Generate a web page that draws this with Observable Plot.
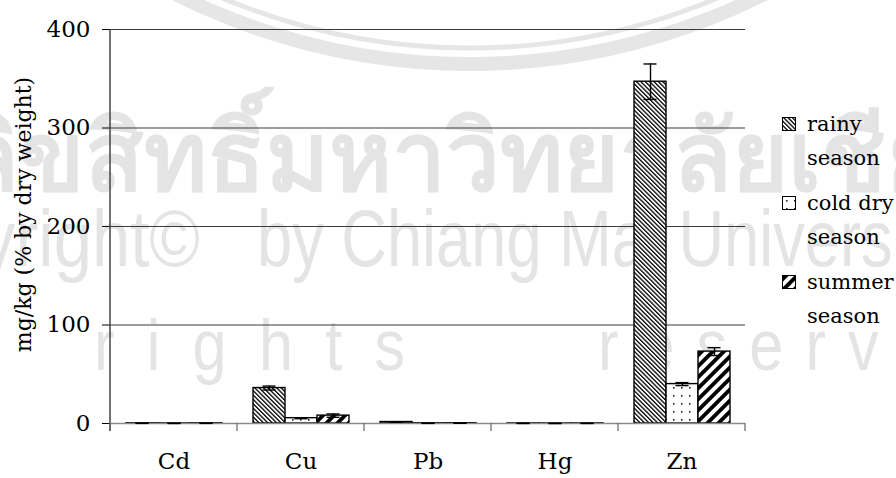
<!DOCTYPE html>
<html>
<head>
<meta charset="utf-8">
<script src="https://cdn.jsdelivr.net/npm/d3@7"></script>
<script src="https://cdn.jsdelivr.net/npm/@observablehq/plot@0.6"></script>
<style>
  body { margin: 0; background: #fff; }
  #wrap { position: relative; width: 896px; height: 478px; overflow: hidden; font-family: "DejaVu Serif", serif; }
  #wm, #chart, #legend { position: absolute; left: 0; top: 0; }
  .lg { position: absolute; font-size: 21px; line-height: 1; white-space: nowrap; color: #000; }
  .sw { position: absolute; width: 14px; height: 14px; border: 1.2px solid #000; box-sizing: border-box; }
</style>
</head>
<body>
<svg width="0" height="0" style="position:absolute">
  <defs>
    <pattern id="pat-rainy" width="3.1" height="8" patternUnits="userSpaceOnUse" patternTransform="rotate(-45)">
      <rect width="3.1" height="8" fill="#fff"/>
      <rect width="1.3" height="8" fill="#000"/>
    </pattern>
    <pattern id="pat-cold" width="8" height="8" patternUnits="userSpaceOnUse">
      <rect width="8" height="8" fill="#fff"/>
      <rect x="3" y="3" width="1.6" height="1.6" fill="#222"/>
    </pattern>
    <pattern id="pat-summer" width="7.8" height="10" patternUnits="userSpaceOnUse" patternTransform="rotate(45)">
      <rect width="7.8" height="10" fill="#fff"/>
      <rect width="3.9" height="10" fill="#000"/>
    </pattern>
  </defs>
</svg>
<div id="wrap">
  <svg id="wm" width="896" height="478">
    <g fill="none" stroke="#e6e6e6">
      <circle cx="470" cy="-590" r="654" stroke-width="14"/>
      <circle cx="470" cy="-590" r="638" stroke-width="5"/>
    </g>
    <g fill="#e4e4e4" font-family="'Liberation Sans',sans-serif">
      <text x="-40" y="190" font-size="96" font-weight="bold">ลิขสิทธิ์มหาวิทยาลัยเชียงใหม่</text>
      <text transform="translate(200,266) scale(0.86,1)" font-size="80" text-anchor="end">Copyright©</text>
      <text transform="translate(257,266) scale(0.79,1)" font-size="80">by Chiang Mai University</text>
      <text transform="translate(94,370) scale(0.85,1)" font-size="72" letter-spacing="38">rights</text>
      <text transform="translate(598,370) scale(0.85,1)" font-size="72" letter-spacing="26">reserved</text>
    </g>
  </svg>
  <div id="chart"></div>
  <div id="legend"></div>
</div>
<script>
// Heavy-metal concentrations by season (mg/kg), with standard deviations
const metals = ["Cd", "Cu", "Pb", "Hg", "Zn"];
const seasons = ["rainy season", "cold dry season", "summer season"];
const rainy = [0.2, 36, 1.5, 0.1, 347];
const rainyErr = [0.1, 2, 0.3, 0.05, 18];
const coldDry = [0.1, 5.4, 0.2, 0.05, 40];
const coldDryErr = [0.05, 0.5, 0.1, 0.03, 1.5];
const summer = [0.2, 8, 0.3, 0.1, 73];
const summerErr = [0.1, 1.7, 0.1, 0.05, 4];
const yTicks = [0, 100, 200, 300, 400];
const yLabel = "mg/kg (% by dry weight)";
const fills = ["url(#pat-rainy)", "url(#pat-cold)", "url(#pat-summer)"];
const legendLines = [["rainy", "season"], ["cold dry", "season"], ["summer", "season"]];

const valuesBySeason = [rainy, coldDry, summer];
const errBySeason = [rainyErr, coldDryErr, summerErr];
const rows = metals.flatMap((m, i) => seasons.map((s, j) => ({
  metal: m, season: s, value: valuesBySeason[j][i], err: errBySeason[j][i]
})));

const bars = seasons.map((s, j) =>
  Plot.barY(rows.filter(d => d.season === s), {
    fx: "metal", x: "season", y: "value",
    fill: fills[j], stroke: "#000", strokeWidth: 1.4
  })
);

const plot = Plot.plot({
  width: 896,
  height: 478,
  marginLeft: 108,
  marginRight: 149,
  marginTop: 29,
  marginBottom: 55,
  style: { background: "transparent", fontFamily: "'DejaVu Serif', serif", fontSize: "23px", color: "#000", overflow: "visible" },
  fx: { domain: metals, padding: 0, label: null, tickSize: 0, tickPadding: 29 },
  x: { domain: seasons, paddingInner: 0, paddingOuter: 0.48, axis: null },
  y: { domain: [0, 400], ticks: yTicks, tickSize: 8, tickPadding: 12, label: null },
  marks: [
    Plot.ruleY(yTicks.filter(d => d > 0), { stroke: "#3a3a3a", strokeWidth: 1.2 }),
    ...bars,
    Plot.ruleY([0], { stroke: "#8a8a8a", strokeWidth: 1.5 }),
    Plot.ruleX(rows, { fx: "metal", x: "season", y1: d => d.value - d.err, y2: d => d.value + d.err, stroke: "#000", strokeWidth: 1.4 }),
    Plot.tickY(rows, { fx: "metal", x: "season", y: d => d.value + d.err, insetLeft: 9.5, insetRight: 9.5, stroke: "#000", strokeWidth: 1.4 }),
    Plot.tickY(rows, { fx: "metal", x: "season", y: d => d.value - d.err, insetLeft: 9.5, insetRight: 9.5, stroke: "#000", strokeWidth: 1.4 }),
    Plot.text([{ fx: metals[0], t: yLabel }], { fx: "fx", text: "t", frameAnchor: "left", textAnchor: "middle", lineAnchor: "top", rotate: -90, dx: -95, dy: -12, fontSize: 22 })
  ]
});

// y-axis domain line and category-boundary ticks on the x axis
const fx = plot.scale("fx");
const y = plot.scale("y");
const edges = metals.map(m => fx.apply(m));
edges.push(edges[edges.length - 1] + fx.bandwidth);
const y0 = y.apply(0), yTop = y.apply(400);
const g = d3.select(plot).append("g");
g.append("line").attr("x1", edges[0]).attr("x2", edges[0]).attr("y1", yTop).attr("y2", y0 + 8)
  .attr("stroke", "#444").attr("stroke-width", 1.5);
g.selectAll(".edge").data(edges).join("line")
  .attr("x1", d => d).attr("x2", d => d).attr("y1", y0).attr("y2", y0 + 8)
  .attr("stroke", "#666").attr("stroke-width", 1.2);

document.getElementById("chart").appendChild(plot);

// Legend: swatch + two-line label per season
const legendTop = [117, 196, 275];
const lg = document.getElementById("legend");
legendLines.forEach((lines, j) => {
  const sw = document.createElement("div");
  sw.className = "sw";
  sw.style.left = "782px";
  sw.style.top = legendTop[j] + "px";
  sw.innerHTML = `<svg width="12" height="12" style="display:block"><rect width="12" height="12" fill="${fills[j]}"/></svg>`;
  lg.appendChild(sw);
  lines.forEach((t, k) => {
    const el = document.createElement("div");
    el.className = "lg";
    el.textContent = t;
    el.style.left = "807px";
    el.style.top = (legendTop[j] - 3 + k * 34) + "px";
    lg.appendChild(el);
  });
});
</script>
</body>
</html>
